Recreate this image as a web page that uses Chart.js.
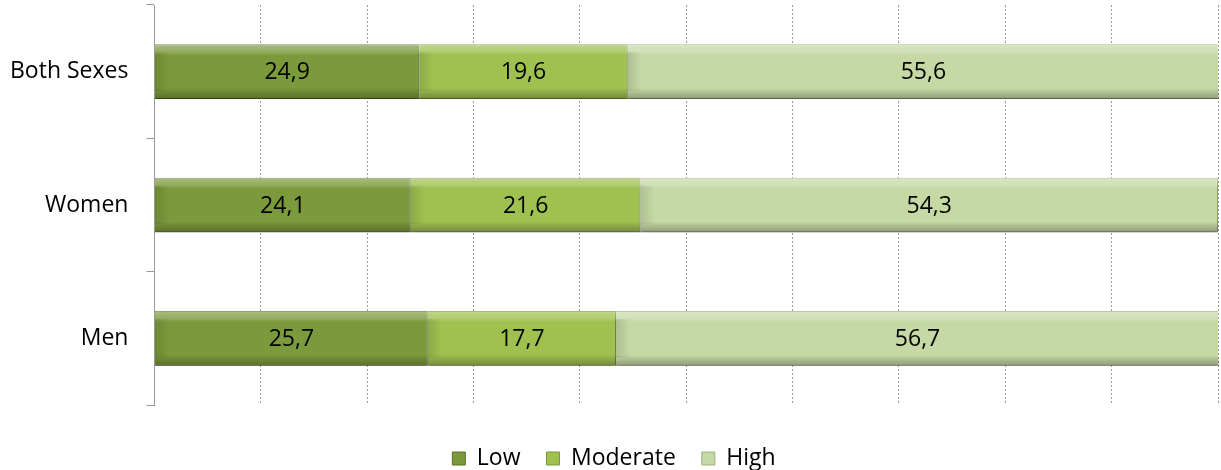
<!DOCTYPE html>
<html>
<head>
<meta charset="utf-8">
<script src="https://cdn.jsdelivr.net/npm/chart.js@4"></script>
<style>
  html, body { margin: 0; padding: 0; background: #fff; }
  #wrap { width: 1221px; height: 470px; }
</style>
</head>
<body>
<div id="wrap"><canvas id="c" width="1221" height="470"></canvas></div>
<script>
const categories = ["Both Sexes", "Women", "Men"];
const lowValues = [24.9, 24.1, 25.7];
const moderateValues = [19.6, 21.6, 17.7];
const highValues = [55.6, 54.3, 56.7];
const seriesNames = ["Low", "Moderate", "High"];

const FONT = "'Open Sans', 'Liberation Sans', sans-serif";
const FSIZE = 23;

const bevelPlugin = {
  id: 'bevel',
  beforeDatasetDraw(chart, args) {
    const ctx = chart.ctx;
    ctx.save();
    ctx.shadowColor = 'rgba(0,0,0,0.28)';
    ctx.shadowBlur = 6;
    ctx.shadowOffsetY = 4;
  },
  afterDatasetDraw(chart, args) {
    const ctx = chart.ctx;
    ctx.restore();
    const meta = args.meta;
    meta.data.forEach(el => {
      const x0 = Math.min(el.x, el.base), x1 = Math.max(el.x, el.base);
      const h = el.height, top = el.y - h / 2, bot = el.y + h / 2;
      ctx.save();
      const g = ctx.createLinearGradient(0, top, 0, bot);
      g.addColorStop(0, 'rgba(255,255,255,0.35)');
      g.addColorStop(0.14, 'rgba(255,255,255,0.18)');
      g.addColorStop(0.2, 'rgba(255,255,255,0.0)');
      g.addColorStop(0.8, 'rgba(0,0,0,0.0)');
      g.addColorStop(0.88, 'rgba(0,0,0,0.12)');
      g.addColorStop(1, 'rgba(0,0,0,0.28)');
      ctx.fillStyle = g;
      ctx.fillRect(x0, top, x1 - x0, h);
      const gl = ctx.createLinearGradient(x0, 0, x0 + 14, 0);
      gl.addColorStop(0, 'rgba(0,0,0,0.12)');
      gl.addColorStop(1, 'rgba(0,0,0,0)');
      ctx.fillStyle = gl;
      ctx.fillRect(x0, top + 8, 14, h - 16);
      ctx.restore();
    });
  }
};

const labelPlugin = {
  id: 'valueLabels',
  afterDatasetsDraw(chart) {
    const ctx = chart.ctx;
    ctx.save();
    ctx.font = FSIZE + "px " + FONT;
    ctx.fillStyle = '#000';
    ctx.textAlign = 'center';
    ctx.textBaseline = 'middle';
    chart.data.datasets.forEach((ds, i) => {
      const meta = chart.getDatasetMeta(i);
      meta.data.forEach((el, j) => {
        const cx = (el.x + el.base) / 2;
        ctx.fillText(ds.data[j].toFixed(1).replace('.', ','), cx, el.y + 1);
      });
    });
    ctx.restore();
  }
};

new Chart(document.getElementById('c'), {
  type: 'bar',
  data: {
    labels: categories,
    datasets: [
      { label: seriesNames[0], data: lowValues, backgroundColor: '#7b9a3b', borderColor: '#5a7327', borderWidth: 1 },
      { label: seriesNames[1], data: moderateValues, backgroundColor: '#9fc150', borderColor: '#7b983a', borderWidth: 1 },
      { label: seriesNames[2], data: highValues, backgroundColor: '#c6d9a5', borderColor: '#9db27a', borderWidth: 1 }
    ]
  },
  options: {
    indexAxis: 'y',
    responsive: false,
    animation: false,
    devicePixelRatio: 1,
    layout: { padding: { top: 5, right: 3, left: 10, bottom: 0 } },
    datasets: { bar: { barPercentage: 0.41, categoryPercentage: 1.0 } },
    scales: {
      x: {
        stacked: true,
        min: 0, max: 100,
        ticks: { display: false, stepSize: 10 },
        grid: { color: '#9a9a9a', drawTicks: false },
        border: { display: false, dash: [2, 2] },
        afterFit(scale) { scale.height = 16; }
      },
      y: {
        stacked: true,
        ticks: { color: '#000', font: { size: FSIZE, family: FONT }, padding: 18 },
        grid: { drawOnChartArea: false, offset: true, tickLength: 8, color: '#9a9a9a' },
        border: { display: true, color: '#9a9a9a', width: 1 },
        afterFit(scale) { scale.paddingTop = 0; scale.paddingBottom = 0; scale.width -= 18; }
      }
    },
    plugins: {
      legend: {
        position: 'bottom',
        maxHeight: 49,
        labels: {
          color: '#000',
          font: { size: FSIZE, family: FONT },
          boxWidth: 13, boxHeight: 13, padding: 26,
          generateLabels(chart) {
            return chart.data.datasets.map((ds, i) => ({
              text: ds.label, fillStyle: ds.backgroundColor, strokeStyle: ds.borderColor,
              lineWidth: 1, datasetIndex: i, hidden: false
            }));
          }
        }
      },
      tooltip: { enabled: false }
    }
  },
  plugins: [bevelPlugin, labelPlugin]
});
</script>
</body>
</html>
